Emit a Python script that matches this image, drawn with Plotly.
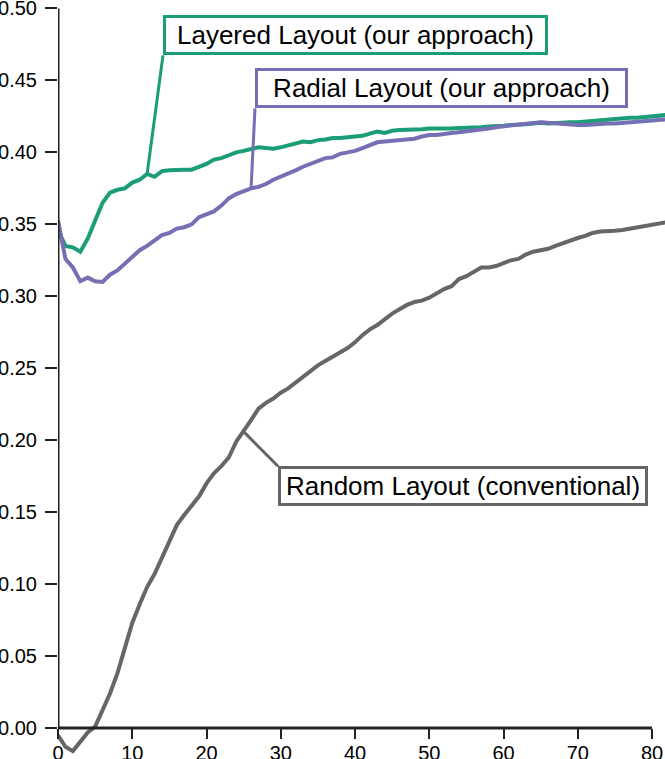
import plotly.graph_objects as go

x_steps = list(range(0, 83))

layered = [0.346, 0.335, 0.334, 0.331, 0.340, 0.352, 0.365, 0.372, 0.374, 0.375,
           0.379, 0.381, 0.385, 0.383, 0.387, 0.3875, 0.388, 0.388, 0.388, 0.390,
           0.392, 0.395, 0.396, 0.398, 0.400, 0.401, 0.402, 0.4035, 0.403, 0.4025,
           0.4035, 0.405, 0.406, 0.4075, 0.407, 0.4085, 0.409, 0.410, 0.410, 0.4105,
           0.411, 0.4115, 0.413, 0.4145, 0.4135, 0.415, 0.4155, 0.4155, 0.416, 0.416,
           0.4165, 0.4165, 0.416, 0.4165, 0.417, 0.417, 0.417, 0.4175, 0.418, 0.418,
           0.4185, 0.419, 0.419, 0.4195, 0.420, 0.4205, 0.420, 0.4205, 0.421, 0.421,
           0.421, 0.4215, 0.422, 0.422, 0.4225, 0.423, 0.4235, 0.424, 0.424, 0.4245,
           0.425, 0.4255, 0.426]

radial = [0.353, 0.326, 0.320, 0.3105, 0.313, 0.3105, 0.310, 0.315, 0.318, 0.3225,
          0.327, 0.332, 0.335, 0.339, 0.3425, 0.344, 0.347, 0.348, 0.350, 0.355,
          0.357, 0.359, 0.363, 0.368, 0.371, 0.373, 0.375, 0.376, 0.378, 0.381,
          0.383, 0.385, 0.3875, 0.390, 0.392, 0.394, 0.396, 0.3965, 0.399, 0.400,
          0.401, 0.403, 0.405, 0.407, 0.4075, 0.408, 0.409, 0.409, 0.4095, 0.411,
          0.412, 0.412, 0.413, 0.4135, 0.414, 0.4145, 0.4155, 0.416, 0.4165, 0.4175,
          0.418, 0.4185, 0.419, 0.4195, 0.420, 0.421, 0.4205, 0.420, 0.4195, 0.419,
          0.419, 0.419, 0.4195, 0.4195, 0.420, 0.420, 0.4205, 0.421, 0.421, 0.4215,
          0.422, 0.4225, 0.423]

random_layout = [-0.005, -0.013, -0.016, -0.010, -0.003, 0.001, 0.012, 0.024, 0.038, 0.055,
                 0.073, 0.086, 0.098, 0.107, 0.118, 0.130, 0.141, 0.148, 0.155, 0.161,
                 0.170, 0.177, 0.182, 0.188, 0.199, 0.206, 0.214, 0.222, 0.226, 0.229,
                 0.233, 0.236, 0.240, 0.244, 0.248, 0.252, 0.255, 0.258, 0.261, 0.264,
                 0.268, 0.273, 0.277, 0.280, 0.284, 0.288, 0.291, 0.294, 0.296, 0.297,
                 0.299, 0.302, 0.305, 0.307, 0.312, 0.314, 0.317, 0.320, 0.320, 0.321,
                 0.323, 0.325, 0.326, 0.329, 0.331, 0.332, 0.333, 0.335, 0.337, 0.339,
                 0.3405, 0.342, 0.344, 0.345, 0.345, 0.3455, 0.346, 0.347, 0.348, 0.349,
                 0.350, 0.351, 0.3515]

x_ticks = [0, 10, 20, 30, 40, 50, 60, 70, 80]
y_ticks = [0.00, 0.05, 0.10, 0.15, 0.20, 0.25, 0.30, 0.35, 0.40, 0.45, 0.50]

labels = ["Layered Layout (our approach)", "Radial Layout (our approach)",
          "Random Layout (conventional)"]

GREEN = "#1b9e77"
PURPLE = "#7570b3"
GRAY = "#666666"
AXIS = "#222222"
FONT = "Liberation Sans, Arial, Helvetica, sans-serif"

X_RANGE = [0, 81.75]
Y_RANGE = [-0.0194, 0.5003]

fig = go.Figure()
for series, color in [(random_layout, GRAY), (layered, GREEN), (radial, PURPLE)]:
    fig.add_trace(go.Scatter(x=x_steps, y=series, mode="lines",
                             line=dict(color=color, width=4), hoverinfo="skip",
                             showlegend=False, cliponaxis=True))

# axis lines limited to the tick span
fig.add_shape(type="line", xref="x", yref="y", x0=0, x1=0, y0=y_ticks[0], y1=y_ticks[-1],
              line=dict(color=AXIS, width=3))
fig.add_shape(type="line", xref="x", yref="y", x0=x_ticks[0], x1=x_ticks[-1], y0=0, y1=0,
              line=dict(color=AXIS, width=3))

# callouts: (label index, series, index of point, box corner x, box corner y, anchor, color, width)
callouts = [
    (0, layered, 12, 14.14, 0.4674, "bottom", GREEN, 377),
    (1, radial, 26, 26.53, 0.4306, "bottom", PURPLE, 365),
    (2, random_layout, 25, 29.63, 0.1819, "top", GRAY, 362),
]
for li, series, idx, bx, by, yanc, color, w in callouts:
    fig.add_shape(type="line", xref="x", yref="y", x0=bx, y0=by, x1=x_steps[idx], y1=series[idx],
                  line=dict(color=color, width=3))
    fig.add_annotation(x=bx, y=by, xref="x", yref="y", text=labels[li], showarrow=False,
                       xanchor="left", yanchor=yanc, bgcolor="white", bordercolor=color,
                       borderwidth=3, borderpad=1, width=w, height=32,
                       font=dict(family=FONT, size=26, color="black"))

zero_pos = (0 - Y_RANGE[0]) / (Y_RANGE[1] - Y_RANGE[0])

fig.update_layout(
    width=665, height=759,
    margin=dict(l=58, r=0, t=8, b=3, autoexpand=False),
    paper_bgcolor="white", plot_bgcolor="white",
    font=dict(family=FONT, size=20, color="black"),
    xaxis=dict(range=X_RANGE, tickvals=x_ticks, ticktext=[str(v) for v in x_ticks],
               showgrid=False, zeroline=False, showline=False, automargin=False,
               ticks="outside", ticklen=10, tickwidth=2, tickcolor=AXIS,
               anchor="free", position=zero_pos, ticklabeloverflow="allow",
               ticklabelstandoff=-3,
               tickfont=dict(family=FONT, size=20, color="black")),
    yaxis=dict(range=Y_RANGE, tickvals=y_ticks, ticktext=[f"{v:.2f}" for v in y_ticks],
               showgrid=False, zeroline=False, showline=False, automargin=False,
               ticks="outside", ticklen=12, tickwidth=2, tickcolor=AXIS,
               ticklabelstandoff=4, ticklabeloverflow="allow",
               tickfont=dict(family=FONT, size=20, color="black")),
)

fig.write_html("out.html", config={"displayModeBar": False, "staticPlot": True},
               post_script="document.body.style.margin='0px';document.body.style.overflow='hidden';")
